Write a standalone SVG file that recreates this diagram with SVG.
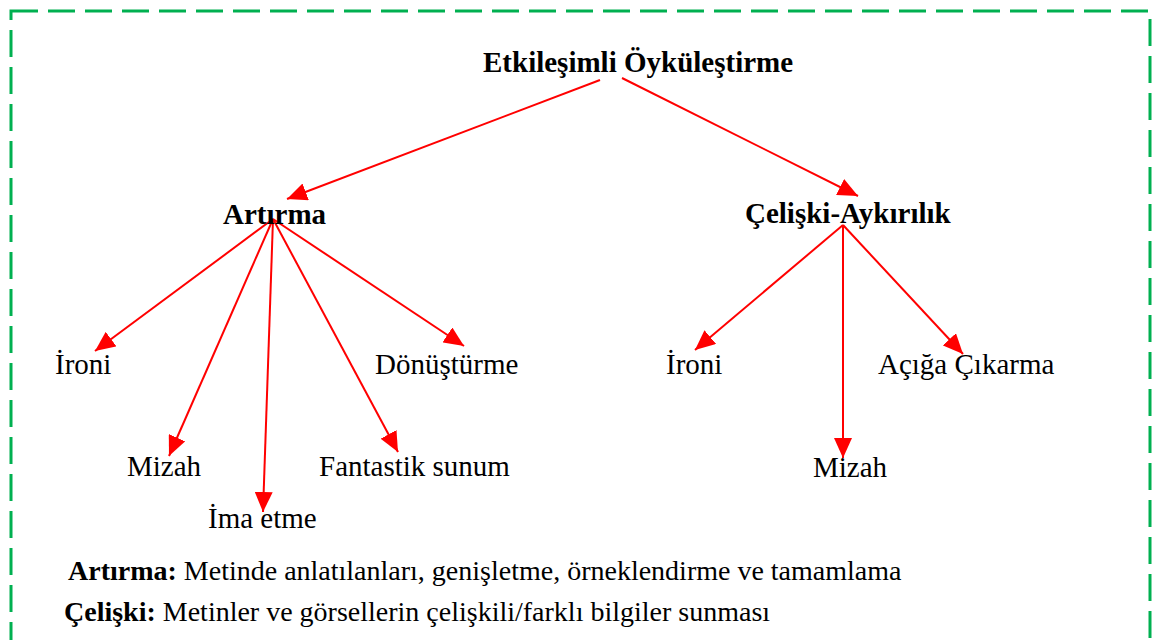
<svg xmlns="http://www.w3.org/2000/svg" width="1152" height="640" viewBox="0 0 1152 640">
  <style>
    .frame { fill: none; stroke: #00b050; stroke-width: 3; stroke-dasharray: 27 10; }
    .title { font-family: "Liberation Serif", "Times New Roman", serif; font-size: 29px; font-weight: bold; fill: #000; }
    .leaf { font-family: "Liberation Serif", "Times New Roman", serif; font-size: 29px; fill: #000; }
    .note { font-family: "Liberation Serif", "Times New Roman", serif; font-size: 28px; fill: #000; }
    .edge { stroke: #ff0000; stroke-width: 2; fill: none; marker-end: url(#head); }
  </style>
  <defs>
    <marker id="head" markerUnits="userSpaceOnUse" markerWidth="22" markerHeight="18" refX="20" refY="9" orient="auto">
      <path d="M0,0 L20,9 L0,18 Z" fill="#ff0000"/>
    </marker>
  </defs>
  <!-- dashed outer frame, bottom edge runs past the canvas -->
  <rect class="frame" x="11" y="11" width="1139" height="660"/>
  <g id="connectors">
    <line class="edge" x1="600" y1="80" x2="287" y2="199"/>
    <line class="edge" x1="622" y1="78" x2="858" y2="196"/>
    <line class="edge" x1="273" y1="219" x2="95" y2="351"/>
    <line class="edge" x1="273" y1="219" x2="169" y2="456"/>
    <line class="edge" x1="273" y1="219" x2="263" y2="512"/>
    <line class="edge" x1="273" y1="219" x2="398" y2="452"/>
    <line class="edge" x1="273" y1="219" x2="464" y2="346"/>
    <line class="edge" x1="843" y1="225" x2="695" y2="350"/>
    <line class="edge" x1="843" y1="225" x2="843" y2="458"/>
    <line class="edge" x1="843" y1="225" x2="963" y2="354"/>
  </g>
  <g id="root"><text class="title" x="483" y="72">Etkileşimli Öyküleştirme</text></g>
  <g id="artirma"><text class="title" x="223" y="224">Artırma</text></g>
  <g id="celiski"><text class="title" x="745" y="223">Çelişki-Aykırılık</text></g>
  <g id="a-ironi"><text class="leaf" x="55" y="374">İroni</text></g>
  <g id="a-donusturme"><text class="leaf" x="375" y="374">Dönüştürme</text></g>
  <g id="a-mizah"><text class="leaf" x="127" y="476">Mizah</text></g>
  <g id="a-fantastik"><text class="leaf" x="319" y="476">Fantastik sunum</text></g>
  <g id="a-ima"><text class="leaf" x="208" y="528">İma etme</text></g>
  <g id="c-ironi"><text class="leaf" x="666" y="374">İroni</text></g>
  <g id="c-aciga"><text class="leaf" x="878" y="374">Açığa Çıkarma</text></g>
  <g id="c-mizah"><text class="leaf" x="813" y="477">Mizah</text></g>
  <g id="notes">
    <text class="note" x="68" y="580"><tspan font-weight="bold">Artırma:</tspan> Metinde anlatılanları, genişletme, örneklendirme ve tamamlama</text>
    <text class="note" x="64" y="621"><tspan font-weight="bold">Çelişki:</tspan> Metinler ve görsellerin çelişkili/farklı bilgiler sunması</text>
  </g>
</svg>
